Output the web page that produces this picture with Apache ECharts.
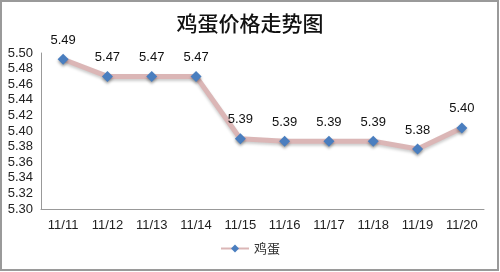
<!DOCTYPE html>
<html>
<head>
<meta charset="utf-8">
<script src="https://cdn.jsdelivr.net/npm/echarts@6/dist/echarts.min.js"></script>
<style>
html,body{margin:0;padding:0;background:#fff;}
#chart{width:500px;height:272px;}
</style>
</head>
<body>
<div id="chart"></div>
<script>
const titleText = '鸡蛋价格走势图';
const seriesName = '鸡蛋';
const categories = ['11/11','11/12','11/13','11/14','11/15','11/16','11/17','11/18','11/19','11/20'];
const prices = [5.492, 5.47, 5.47, 5.47, 5.39, 5.387, 5.387, 5.387, 5.377, 5.404];
const yMin = 5.30, yMax = 5.50, yStep = 0.02;

const chart = echarts.init(document.getElementById('chart'));
chart.setOption({
  animation: false,
  backgroundColor: '#fff',
  title: {
    text: titleText,
    left: 'center',
    top: 8,
    textStyle: {fontFamily: 'Noto Sans CJK SC', fontSize: 21, fontWeight: 500, color: '#111'}
  },
  graphic: [{
    type: 'rect',
    shape: {x: 1, y: 1, width: 497, height: 269},
    style: {fill: 'none', stroke: '#9a9a9a', lineWidth: 2},
    silent: true
  }],
  legend: {
    bottom: 12,
    left: 'center',
    itemWidth: 28,
    itemHeight: 10,
    data: [seriesName],
    textStyle: {fontFamily: 'Noto Sans CJK SC', fontSize: 13, color: '#333'}
  },
  grid: {left: 41, right: 16, top: 53, bottom: 63, containLabel: false},
  xAxis: {
    type: 'category',
    data: categories,
    boundaryGap: true,
    axisLine: {lineStyle: {color: '#999', width: 1}},
    axisTick: {show: false},
    axisLabel: {color: '#222', fontSize: 13, fontFamily: 'Liberation Sans', margin: 10}
  },
  yAxis: {
    type: 'value',
    min: yMin, max: yMax, interval: yStep,
    axisLine: {show: true, lineStyle: {color: '#999', width: 1}},
    axisTick: {show: false},
    splitLine: {show: false},
    axisLabel: {color: '#222', fontSize: 13, fontFamily: 'Liberation Sans', margin: 8,
      formatter: v => v.toFixed(2)}
  },
  series: [{
    name: seriesName,
    type: 'line',
    data: prices,
    symbol: 'diamond',
    symbolSize: 11,
    itemStyle: {color: '#4a7ebf', shadowColor: 'rgba(0,0,0,0.35)', shadowBlur: 3, shadowOffsetY: 2},
    lineStyle: {color: '#dbb6b6', width: 5, shadowColor: 'rgba(0,0,0,0.2)', shadowBlur: 3, shadowOffsetY: 2},
    label: {
      show: true, position: 'top', distance: 7,
      color: '#111', fontSize: 13, fontFamily: 'Liberation Sans',
      formatter: p => p.value.toFixed(2)
    }
  }]
});
</script>
</body>
</html>
